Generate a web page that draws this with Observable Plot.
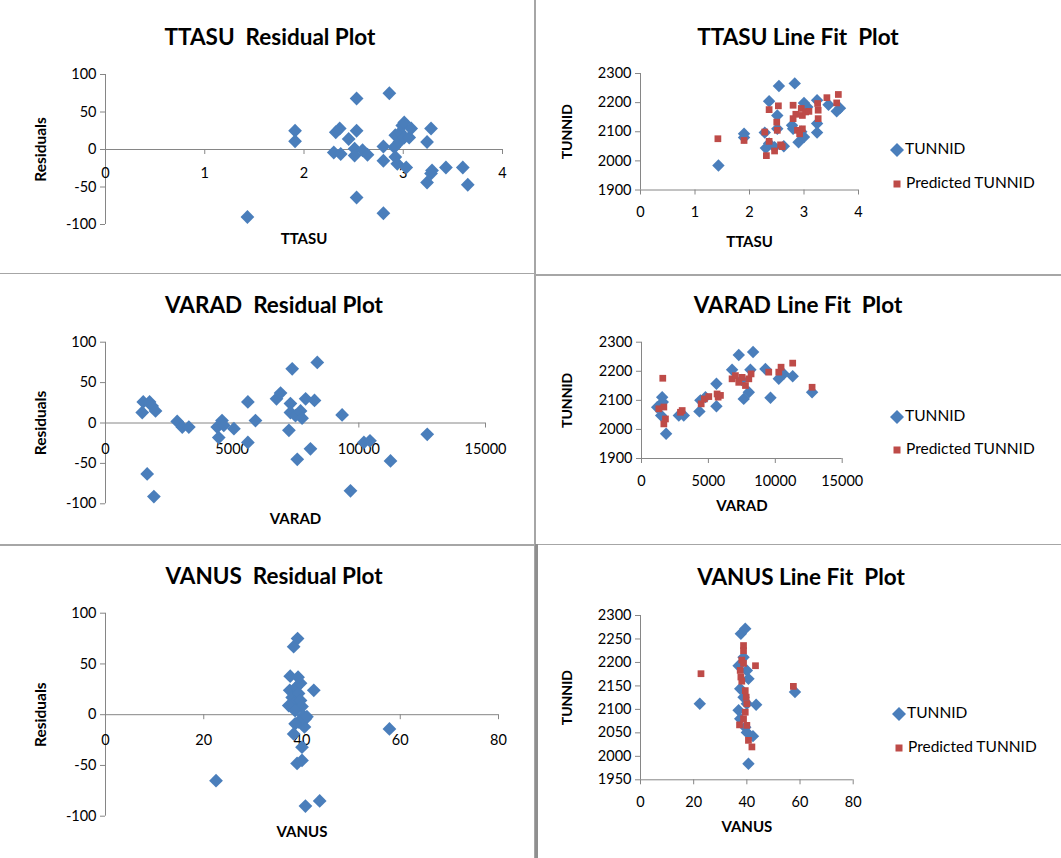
<!DOCTYPE html>
<html>
<head>
<meta charset="utf-8">
<script src="https://cdn.jsdelivr.net/npm/d3@7"></script>
<script src="https://cdn.jsdelivr.net/npm/@observablehq/plot@0.6"></script>
<style>
  html, body { margin: 0; padding: 0; background: #fff; }
  #root { position: relative; width: 1061px; height: 858px; overflow: hidden; background: #fff; font-family: Lato, "Open Sans", sans-serif; }
  .panel { position: absolute; }
  .title { position: absolute; width: 400px; text-align: center; font: bold 22.5px Lato, sans-serif; white-space: pre; line-height: 26px; color: #000; }
  .div { position: absolute; background: #a6a6a6; }
  .legend { position: absolute; font: 15.5px Lato, sans-serif; color: #000; white-space: nowrap; line-height: 18px; }
  .legend svg { vertical-align: middle; }
</style>
</head>
<body>
<div id="root"></div>
<script>
// ---------- data ----------
const residTicks = [-100, -50, 0, 50, 100];
const ttasuTicks = [0, 1, 2, 3, 4];
const varadTicks = [0, 5000, 10000, 15000];
const vanusTicks = [0, 20, 40, 60, 80];
const tunnidTicks = [1900, 2000, 2100, 2200, 2300];
const tunnidTicksVanus = [1950, 2000, 2050, 2100, 2150, 2200, 2250, 2300];

// TTASU residual plot
const ttasuResX = [1.43,1.91,1.91,2.30,2.32,2.36,2.37,2.45,2.51,2.51,2.53,2.53,2.53,2.59,2.64,2.80,2.80,2.80,2.86,2.91,2.92,2.92,2.94,2.96,2.97,2.99,3.01,3.01,3.03,3.06,3.08,3.24,3.24,3.28,3.28,3.29,3.43,3.60,3.65];
const ttasuResY = [-90,25,11,-4,23,28,-6,14,1,-8,68,25,-64,-1,-7,4,-15,-85,75,3,19,-10,-19,10,23,32,36,16,-24,16,28,10,-44,28,-32,-28,-24,-24,-47];

// VARAD residual plot
const varadResX = [1450,1490,1645,1740,1840,1910,1975,2830,3030,3290,4410,4470,4600,4670,5070,5620,5620,5920,6750,6910,7240,7300,7370,7300,7500,7570,7700,7760,7900,8090,8250,8360,9340,9670,10200,10440,11250,12700];
const varadResY = [13,26,-63,26,21,-91,15,2,-5,-5,-5,-18,3,-3,-7,26,-24,3,30,37,-9,24,67,13,9,-45,15,6,30,-32,28,75,10,-84,-24,-22,-47,-14];

// VANUS residual plot
const vanusResX = [22.5,38.3,39.1,37.6,42.4,40.5,40.0,39.0,40.0,40.7,43.6,57.8,37.5,38.0,38.3,37.3,38.8,39.3,39.7,40.0,40.3,40.7,41.0,39.3,38.6,38.3,39.7,38.6,39.2];
const vanusResY = [-65,67,75,38,24,-12,-32,-48,-45,-90,-85,-14,24,17,11,9,27,21,14,8,-1,-4,-2,-7,-9,-19,31,4,37];

// TTASU line fit plot
const ttasuFitX = [1.43,1.90,1.90,2.28,2.30,2.36,2.36,2.46,2.51,2.51,2.54,2.63,2.78,2.80,2.83,2.90,2.95,3.00,3.00,3.06,3.24,3.24,3.24,3.45,3.60,3.66];
const ttasuFitY = [1984,2093,2080,2097,2044,2205,2060,2047,2156,2110,2257,2050,2122,2110,2266,2064,2100,2082,2199,2185,2208,2128,2097,2193,2170,2181];
const ttasuPredX = [1.42,1.90,2.28,2.31,2.36,2.36,2.46,2.50,2.53,2.51,2.57,2.60,2.80,2.80,2.85,2.88,2.92,2.95,2.97,2.97,3.03,3.09,3.25,3.26,3.26,3.42,3.60,3.63];
const ttasuPredY = [2076,2070,2099,2018,2176,2067,2034,2133,2189,2105,2055,2049,2191,2145,2160,2105,2093,2180,2110,2156,2168,2170,2197,2174,2145,2217,2199,2228];

// VARAD line fit plot
const varadFitX = [1170,1545,1590,1470,1840,2790,3160,4330,4400,4780,5600,5600,6770,7270,8340,8140,7640,8020,7500,9260,9640,10260,10630,11300,12750];
const varadFitY = [2076,2111,2094,2048,1985,2048,2048,2062,2100,2111,2080,2157,2205,2256,2266,2205,2105,2128,2170,2208,2109,2174,2191,2183,2128];
const varadPredX = [1590,1295,1670,1670,1790,2913,3040,4460,4700,5030,5650,5730,5900,6770,7020,7270,7520,7770,8020,8190,9510,10260,10430,11300,12750];
const varadPredY = [2176,2071,2077,2019,2036,2059,2065,2088,2105,2113,2122,2111,2117,2174,2185,2162,2179,2151,2174,2191,2197,2197,2214,2228,2145];

// VANUS line fit plot
const vanusFitX = [22.3,58.1,37.75,39.4,36.9,38.75,40.0,40.6,37.5,38.75,40.0,43.5,36.9,37.5,39.4,40.0,42.3,40.6];
const vanusFitY = [2112,2137,2261,2272,2193,2211,2183,2165,2144,2126,2112,2110,2098,2080,2062,2051,2043,1984];
const vanusPredX = [22.75,57.5,43.25,38.75,38.75,38.1,38.75,37.5,37.75,38.1,39.4,39.75,40.0,39.4,38.75,40.0,37.25,40.6,41.9];
const vanusPredY = [2176,2149,2193,2236,2225,2205,2198,2183,2169,2160,2140,2126,2112,2094,2080,2066,2067,2034,2020];

// ---------- styling ----------
const blue = "#4a7ebb";
const red = "#be4b48";
const axisColor = "#868686";
const baseStyle = {fontFamily: "Lato, sans-serif", fontSize: "14.5px", color: "#000", background: "transparent", overflow: "visible"};
const fmt = d => String(d);

const root = document.getElementById("root");

function place(el, left, top) {
  const wrap = document.createElement("div");
  wrap.className = "panel";
  wrap.style.left = left + "px";
  wrap.style.top = top + "px";
  wrap.appendChild(el);
  root.appendChild(wrap);
}

function residPlot(o) {
  return Plot.plot({
    width: o.w, height: o.h,
    marginLeft: o.ml, marginRight: o.mr, marginTop: o.mt, marginBottom: o.mb,
    x: {domain: [o.xTicks[0], o.xTicks[o.xTicks.length - 1]], axis: null},
    y: {domain: [-100, 100]},
    style: baseStyle,
    marks: [
      Plot.ruleX([o.xTicks[0]], {stroke: axisColor}),
      Plot.axisY({ticks: residTicks, tickSize: 5, tickPadding: 4, stroke: axisColor, label: null, tickFormat: fmt}),
      Plot.ruleY([0], {stroke: axisColor}),
      Plot.ruleX(o.xTicks, {x: d => d, y1: 0, y2: 0, insetBottom: -5, stroke: axisColor}),
      Plot.text(o.xTicks, {x: d => d, y: 0, dy: o.labelDy, text: fmt}),
      Plot.text([o.xLabel], {frameAnchor: "bottom", dy: o.titleDy, text: d => d, fontWeight: "bold", fontSize: 15}),
      Plot.text(["Residuals"], {frameAnchor: "left", dx: o.yTitleDx, rotate: -90, textAnchor: "middle", text: d => d, fontWeight: "bold", fontSize: 15.5}),
      Plot.dot(o.xs, {x: o.xs, y: o.ys, symbol: "diamond2", r: 6.2, fill: blue, stroke: "none"})
    ]
  });
}

function fitPlot(o) {
  return Plot.plot({
    width: o.w, height: o.h,
    marginLeft: o.ml, marginRight: o.mr, marginTop: o.mt, marginBottom: o.mb,
    x: {domain: [o.xTicks[0], o.xTicks[o.xTicks.length - 1]]},
    y: {domain: [o.yTicks[0], o.yTicks[o.yTicks.length - 1]]},
    style: baseStyle,
    marks: [
      Plot.ruleX([o.xTicks[0]], {stroke: axisColor}),
      Plot.ruleY([o.yTicks[0]], {stroke: axisColor}),
      Plot.axisY({ticks: o.yTicks, tickSize: 5, tickPadding: 4, stroke: axisColor, label: null, tickFormat: fmt}),
      Plot.axisX({ticks: o.xTicks, tickSize: 5, tickPadding: 12, stroke: axisColor, label: null, tickFormat: fmt}),
      Plot.text([o.xLabel], {frameAnchor: "bottom", dy: o.titleDy, text: d => d, fontWeight: "bold", fontSize: 15}),
      Plot.text(["TUNNID"], {frameAnchor: "left", dx: o.yTitleDx, rotate: -90, textAnchor: "middle", text: d => d, fontWeight: "bold", fontSize: 14}),
      Plot.dot(o.xs, {x: o.xs, y: o.ys, symbol: "diamond2", r: 5.6, fill: blue, stroke: "none"}),
      Plot.dot(o.px, {x: o.px, y: o.py, symbol: "square", r: 3.8, fill: red, stroke: "none"})
    ]
  });
}

function title(text, cx, cy) {
  const t = document.createElement("div");
  t.className = "title";
  t.textContent = text;
  t.style.left = (cx - 200) + "px";
  t.style.top = (cy - 13) + "px";
  root.appendChild(t);
}

function legend(x, yTop, yBot) {
  const a = document.createElement("div");
  a.className = "legend";
  a.style.left = (x - 7) + "px";
  a.style.top = (yTop - 9) + "px";
  a.innerHTML = `<svg width="14" height="14"><path d="M7,0L14,7L7,14L0,7Z" fill="${blue}"/></svg><span style="margin-left:1px">TUNNID</span>`;
  root.appendChild(a);
  const b = document.createElement("div");
  b.className = "legend";
  b.style.left = (x - 7) + "px";
  b.style.top = (yBot - 9) + "px";
  b.innerHTML = `<svg width="14" height="14"><rect x="3.5" y="3.5" width="7" height="7" fill="${red}"/></svg><span style="margin-left:2px">Predicted TUNNID</span>`;
  root.appendChild(b);
}

function line(left, top, w, h, color) {
  const d = document.createElement("div");
  d.className = "div";
  d.style.left = left + "px"; d.style.top = top + "px";
  d.style.width = w + "px"; d.style.height = h + "px";
  if (color) d.style.background = color;
  root.appendChild(d);
}

// dividers
line(534, 0, 2, 858);
line(0, 272.5, 535, 1.5);
line(535, 274, 526, 1.5);
line(0, 544, 535, 1.5);
line(535, 543.5, 526, 1.5);
line(535, 544, 3, 314, "#8f8f8f");

// left column: residual plots
place(residPlot({xs: ttasuResX, ys: ttasuResY, xTicks: ttasuTicks, xLabel: "TTASU",
  w: 530, h: 210, ml: 105, mr: 28, mt: 24, mb: 36, labelDy: 24, titleDy: 19.5, yTitleDx: -64}), 0, 50);
place(residPlot({xs: varadResX, ys: varadResY, xTicks: varadTicks, xLabel: "VARAD",
  w: 530, h: 215, ml: 105, mr: 45, mt: 21.7, mb: 31.7, labelDy: 26, titleDy: 20.5, yTitleDx: -64}), 0, 320);
place(residPlot({xs: vanusResX, ys: vanusResY, xTicks: vanusTicks, xLabel: "VANUS",
  w: 530, h: 258, ml: 105, mr: 32, mt: 22.7, mb: 32.3, labelDy: 26, titleDy: 21, yTitleDx: -64}), 0, 590);

// right column: line fit plots
place(fitPlot({xs: ttasuFitX, ys: ttasuFitY, px: ttasuPredX, py: ttasuPredY, xTicks: ttasuTicks, yTicks: tunnidTicks, xLabel: "TTASU",
  w: 340, h: 205, ml: 105, mr: 17, mt: 18, mb: 70.5, titleDy: 57, yTitleDx: -73}), 535, 55);
place(fitPlot({xs: varadFitX, ys: varadFitY, px: varadPredX, py: varadPredY, xTicks: varadTicks, yTicks: tunnidTicks, xLabel: "VARAD",
  w: 340, h: 200, ml: 106, mr: 33.3, mt: 16.7, mb: 67, titleDy: 52, yTitleDx: -74}), 535, 325);
place(fitPlot({xs: vanusFitX, ys: vanusFitY, px: vanusPredX, py: vanusPredY, xTicks: vanusTicks, yTicks: tunnidTicksVanus, xLabel: "VANUS",
  w: 340, h: 250, ml: 105, mr: 22.3, mt: 15, mb: 70.7, titleDy: 52, yTitleDx: -73}), 535, 600);

// titles
title("TTASU  Residual Plot", 270, 37);
title("VARAD  Residual Plot", 274, 305);
title("VANUS  Residual Plot", 274, 576);
title("TTASU Line Fit  Plot", 798, 37);
title("VARAD Line Fit  Plot", 798, 305);
title("VANUS Line Fit  Plot", 801, 577);

// legends
legend(897, 147.5, 181.5);
legend(897, 415, 448);
legend(899, 712, 746);
</script>
</body>
</html>
